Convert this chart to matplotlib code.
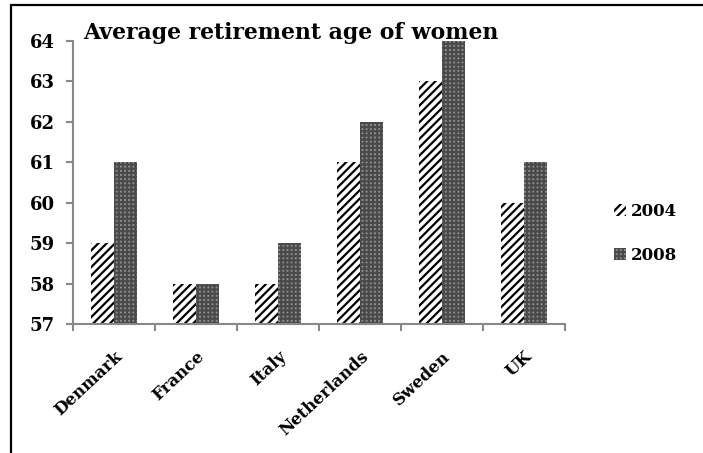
import matplotlib.pyplot as plt
import numpy as np
from matplotlib.patches import Rectangle

countries = ["Denmark", "France", "Italy", "Netherlands", "Sweden", "UK"]
age_2004 = [59, 58, 58, 61, 63, 60]
age_2008 = [61, 58, 59, 62, 64, 61]
y_ticks = [57, 58, 59, 60, 61, 62, 63, 64]

plt.rcParams['font.family'] = ['DejaVu Serif']
plt.rcParams['font.weight'] = 'bold'
plt.rcParams['hatch.linewidth'] = 1.6

fig = plt.figure(figsize=(7.03, 4.53), dpi=100)
ax = fig.add_axes([73 / 703, 1 - 324 / 453, 492 / 703, 283 / 453])

x = np.arange(len(countries))
w = 0.285
ax.bar(x - w / 2, age_2004, w, bottom=0, color='white', edgecolor='black',
       hatch='////', linewidth=0, label='2004')
ax.bar(x + w / 2, age_2008, w, bottom=0, color='#8e8e8e', edgecolor='#4a4a4a',
       hatch='++++', linewidth=0, label='2008')

ax.set_ylim(57, 64)
ax.set_xlim(-0.5, len(countries) - 0.5)
ax.set_yticks(y_ticks)
ax.set_yticklabels([str(v) for v in y_ticks], fontsize=13, fontweight='bold')

# x ticks sit between the groups, labels at the centres
ax.set_xticks(np.arange(len(countries) + 1) - 0.5)
ax.set_xticklabels([])
ax.set_xticks(x, minor=True)
ax.set_xticklabels(countries, minor=True, rotation=43, ha='right',
                   rotation_mode='anchor', fontsize=12, fontweight='bold')
ax.tick_params(axis='x', which='minor', length=0, pad=17)
ax.tick_params(axis='x', which='major', length=5, color='#888888', width=1.5)
ax.tick_params(axis='y', length=5, color='#888888', width=1.5, pad=8)

for s in ['top', 'right']:
    ax.spines[s].set_visible(False)
for s in ['left', 'bottom']:
    ax.spines[s].set_color('#888888')
    ax.spines[s].set_linewidth(1.5)

fig.text(83 / 703, 1 - 33 / 453, "Average retirement age of women",
         fontsize=15.8, fontweight='bold', va='center', ha='left')

ax.legend(loc='center left', bbox_to_anchor=(1.07, 0.32), frameon=False,
          handlelength=0.7, handleheight=0.7, handletextpad=0.3,
          labelspacing=1.6, prop={'size': 12, 'weight': 'bold'})

fig.add_artist(Rectangle((11 / 703, -0.2), 1.2, 1.2 - 5 / 453, fill=False,
                         lw=1.6, edgecolor='black', transform=fig.transFigure))

fig.savefig('out.png', dpi=100)
